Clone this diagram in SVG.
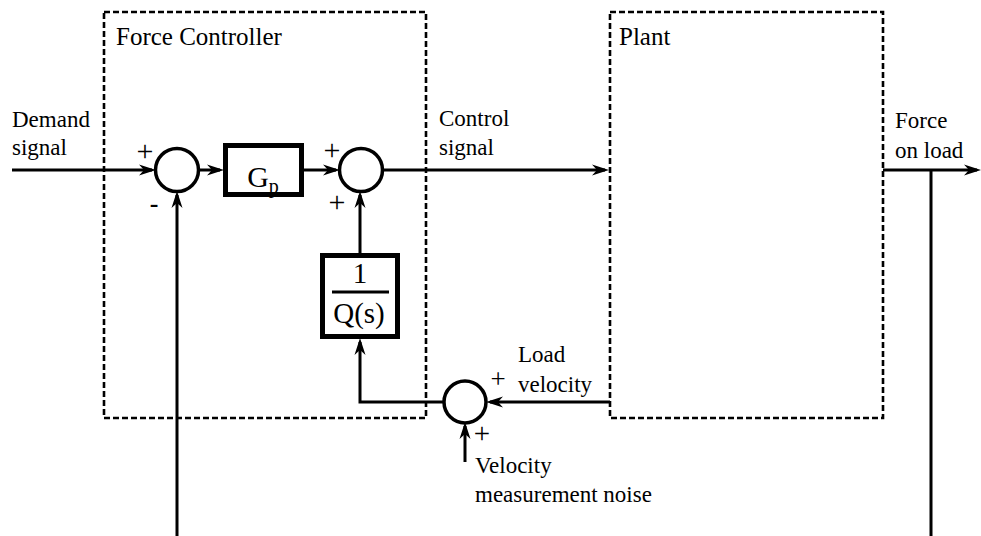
<svg xmlns="http://www.w3.org/2000/svg" width="981" height="536" viewBox="0 0 981 536" font-family="'Liberation Serif', 'Times New Roman', serif">
<style>
.dash{fill:none;stroke:#000;stroke-width:2.6;stroke-dasharray:6 3}
.ln{fill:none;stroke:#000;stroke-width:3}
.sum{fill:#fff;stroke:#000;stroke-width:3.5}
.blk{fill:#fff;stroke:#000;stroke-width:5}
</style>
<defs>
<marker id="ar" markerUnits="userSpaceOnUse" markerWidth="17" markerHeight="12" refX="13" refY="6" orient="auto" viewBox="0 0 17 12">
<path d="M0,0.5 L17,6 L0,11.5 L5,6 z" fill="#000"/>
</marker>
</defs>

<g id="force-controller">
<rect class="dash" x="104" y="12" width="322" height="406"/>
<text x="116" y="45" font-size="25">Force Controller</text>
</g>
<g id="plant">
<rect class="dash" x="610" y="12" width="273" height="406"/>
<text x="619" y="45" font-size="25">Plant</text>
</g>

<g id="connectors">
<line class="ln" x1="12" y1="170" x2="152" y2="170" marker-end="url(#ar)"/>
<line class="ln" x1="199" y1="170" x2="220" y2="170" marker-end="url(#ar)"/>
<line class="ln" x1="304" y1="170" x2="336" y2="170" marker-end="url(#ar)"/>
<line class="ln" x1="383" y1="170" x2="605" y2="170" marker-end="url(#ar)"/>
<line class="ln" x1="883" y1="170" x2="977" y2="170" marker-end="url(#ar)"/>
<line class="ln" x1="931" y1="170" x2="931" y2="536"/>
<line class="ln" x1="177" y1="536" x2="177" y2="195" marker-end="url(#ar)"/>
<line class="ln" x1="360" y1="253" x2="360" y2="195" marker-end="url(#ar)"/>
<line class="ln" x1="610" y1="402" x2="490" y2="402" marker-end="url(#ar)"/>
<polyline class="ln" points="444,402 360,402 360,342" marker-end="url(#ar)"/>
<line class="ln" x1="465" y1="462" x2="465" y2="426" marker-end="url(#ar)"/>
</g>

<g id="sum1">
<circle class="sum" cx="177" cy="170" r="21.5"/>
<text x="145" y="161" font-size="30" text-anchor="middle">+</text>
<text x="154" y="212" font-size="26" font-weight="bold" text-anchor="middle">-</text>
</g>
<g id="gp">
<rect class="blk" x="225.5" y="145.5" width="76" height="49"/>
<text x="263" y="187" font-size="30" text-anchor="middle">G<tspan font-size="20" dy="6">p</tspan></text>
</g>
<g id="sum2">
<circle class="sum" cx="361" cy="170" r="21.5"/>
<text x="332" y="160" font-size="30" text-anchor="middle">+</text>
<text x="337" y="212" font-size="30" text-anchor="middle">+</text>
</g>
<g id="q">
<rect class="blk" x="322.5" y="255.5" width="75" height="81"/>
<text x="360" y="283" font-size="29" text-anchor="middle">1</text>
<line x1="332" y1="292" x2="389" y2="292" stroke="#000" stroke-width="3"/>
<text x="359" y="323" font-size="29" text-anchor="middle">Q(s)</text>
</g>
<g id="sum3">
<circle class="sum" cx="465" cy="402" r="21"/>
<text x="498" y="388" font-size="27" text-anchor="middle">+</text>
<text x="482" y="443" font-size="29" text-anchor="middle">+</text>
</g>

<g id="labels" font-size="23">
<text x="12" y="127">Demand</text>
<text x="12" y="155">signal</text>
<text x="439" y="126">Control</text>
<text x="439" y="155">signal</text>
<text x="895" y="128">Force</text>
<text x="895" y="158">on load</text>
<text x="518" y="362">Load</text>
<text x="518" y="392">velocity</text>
<text x="475" y="473">Velocity</text>
<text x="475" y="502">measurement noise</text>
</g>
</svg>
